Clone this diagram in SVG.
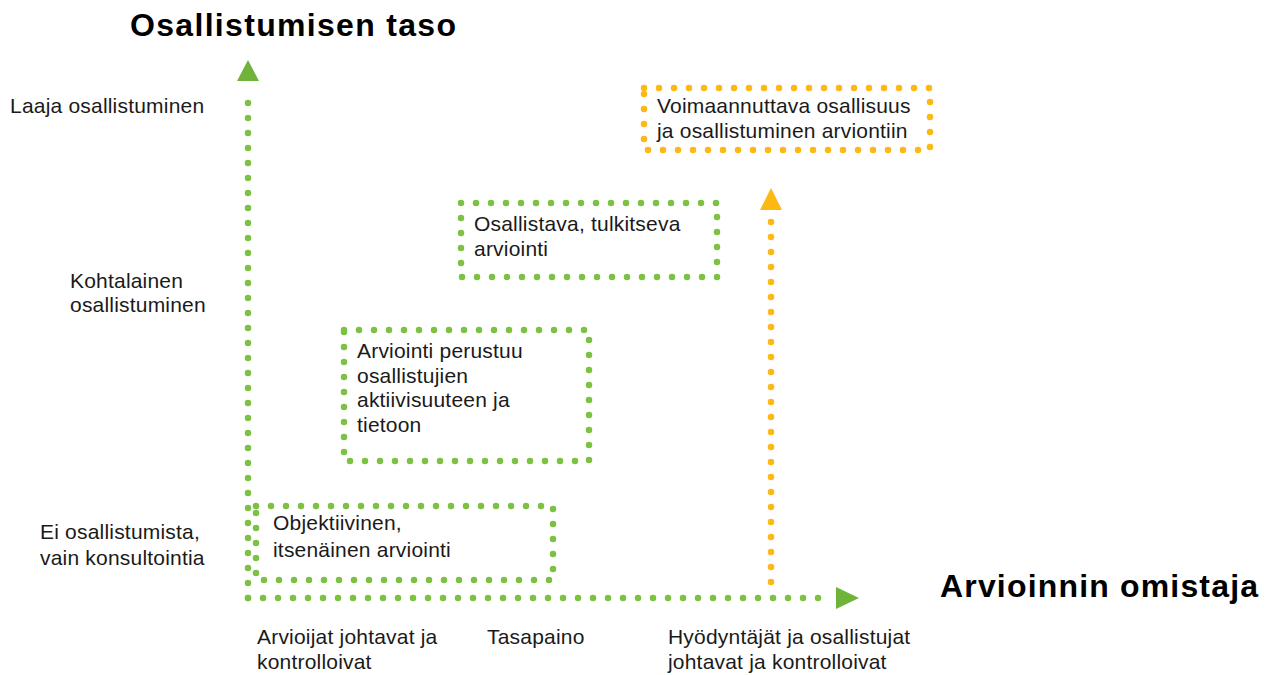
<svg xmlns="http://www.w3.org/2000/svg" width="1269" height="675" viewBox="0 0 1269 675">
<defs>
<style>
.t{font-family:"Liberation Sans",Arial,sans-serif;font-size:21px;letter-spacing:0.2px;fill:#1a1a1a}
.h{font-family:"Liberation Sans",Arial,sans-serif;font-size:32px;font-weight:bold;fill:#000}
.g{fill:none;stroke:#7cc242;stroke-width:6.5;stroke-linecap:round;stroke-dasharray:0 15}
.o{fill:none;stroke:#fdb913;stroke-width:6.5;stroke-linecap:round;stroke-dasharray:0 15}
</style>
</defs>
<rect width="1269" height="675" fill="#fff"/>
<text class="h" x="130" y="36" textLength="326">Osallistumisen taso</text>
<text class="h" x="940" y="597" textLength="318">Arvioinnin omistaja</text>
<g id="axis-labels">
<text class="t" x="10" y="113">Laaja osallistuminen</text>
<text class="t" x="70" y="288">Kohtalainen</text>
<text class="t" x="70" y="312">osallistuminen</text>
<text class="t" x="40" y="539">Ei osallistumista,</text>
<text class="t" x="40" y="565">vain konsultointia</text>
<text class="t" x="257" y="644">Arvioijat johtavat ja</text>
<text class="t" x="257" y="669">kontrolloivat</text>
<text class="t" x="487" y="644">Tasapaino</text>
<text class="t" x="668" y="644">Hyödyntäjät ja osallistujat</text>
<text class="t" x="668" y="669">johtavat ja kontrolloivat</text>
</g>
<g id="connectors">
<path class="g" d="M248,598 V88"/>
<polygon points="248,60 237,81 259,81" fill="#6fb33b"/>
<path class="g" d="M248,598 H828"/>
<polygon points="859,598 836,587 836,609" fill="#6fb33b"/>
<path class="o" d="M771,582 V218"/>
<polygon points="771,188 760,210 782,210" fill="#fdb913"/>
</g>
<g id="node-objektiivinen">
<rect class="g" x="256" y="506" width="297" height="74"/>
<text class="t" x="273" y="530">Objektiivinen,</text>
<text class="t" x="273" y="557">itsenäinen arviointi</text>
</g>
<g id="node-perustuu">
<rect class="g" x="344" y="330" width="245" height="131"/>
<text class="t" x="357" y="358">Arviointi perustuu</text>
<text class="t" x="357" y="383">osallistujien</text>
<text class="t" x="357" y="407">aktiivisuuteen ja</text>
<text class="t" x="357" y="432">tietoon</text>
</g>
<g id="node-osallistava">
<rect class="g" x="461" y="203" width="256" height="74"/>
<text class="t" x="474" y="231">Osallistava, tulkitseva</text>
<text class="t" x="474" y="256">arviointi</text>
</g>
<g id="node-voimaannuttava">
<rect class="o" x="644" y="88" width="286" height="62"/>
<text class="t" x="657" y="113">Voimaannuttava osallisuus</text>
<text class="t" x="657" y="138">ja osallistuminen arviontiin</text>
</g>
</svg>
